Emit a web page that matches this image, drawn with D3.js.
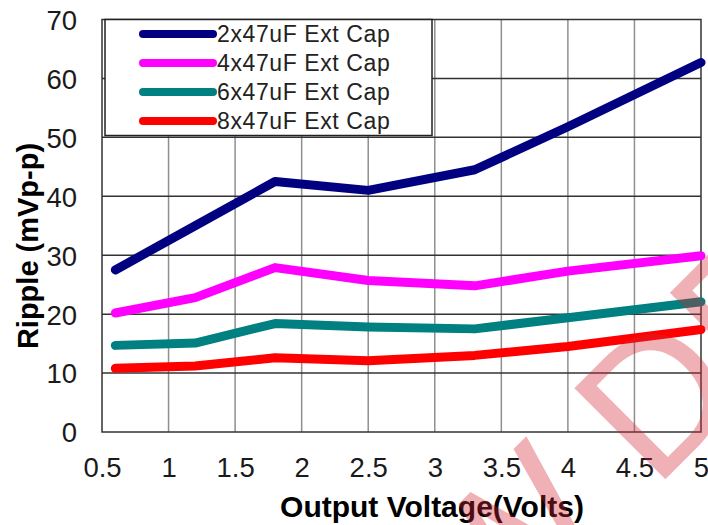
<!DOCTYPE html>
<html>
<head>
<meta charset="utf-8">
<script src="https://cdn.jsdelivr.net/npm/d3@7"></script>
<style>
  html, body { margin: 0; padding: 0; background: #fff; }
  svg { display: block; font-family: "Liberation Sans", Arial, sans-serif; }
</style>
</head>
<body>
<svg id="chart" width="708" height="525"></svg>
<script>
// Output voltage points (V)
const voltages = [0.6, 1.2, 1.8, 2.5, 3.3, 4.0, 5.0];

// Ripple (mVp-p) for each external capacitor bank
const ripple2x = [27.5, 35.0, 42.5, 41.0, 44.5, 51.8, 62.7];
const ripple4x = [20.2, 22.8, 27.9, 25.7, 24.8, 27.3, 29.9];
const ripple6x = [14.7, 15.1, 18.4, 17.8, 17.5, 19.4, 22.1];
const ripple8x = [10.8, 11.2, 12.6, 12.1, 13.0, 14.5, 17.4];

const seriesNames = ["2x47uF Ext Cap", "4x47uF Ext Cap", "6x47uF Ext Cap", "8x47uF Ext Cap"];
const seriesColors = ["#000080", "#ff00ff", "#008080", "#ff0000"];

const xTickValues = [0.5, 1, 1.5, 2, 2.5, 3, 3.5, 4, 4.5, 5];
const xTickLabels = ["0.5", "1", "1.5", "2", "2.5", "3", "3.5", "4", "4.5", "5"];
const yTickValues = [0, 10, 20, 30, 40, 50, 60, 70];

const watermarkText = "NOT RECOMMENDED FOR NEW DESIGNS";

const series = [ripple2x, ripple4x, ripple6x, ripple8x].map((vals, i) => ({
  name: seriesNames[i],
  color: seriesColors[i],
  points: vals.map((v, j) => ({ x: voltages[j], y: v }))
}));

const svg = d3.select("#chart");
const plot = { left: 102, right: 701, top: 19.5, bottom: 432 };

const x = d3.scaleLinear().domain([0.5, 5]).range([plot.left, plot.right]);
const y = d3.scaleLinear().domain([0, 70]).range([plot.bottom, plot.top]);

// Grid: light vertical lines, darker horizontal lines
svg.append("g").selectAll("line")
  .data(xTickValues.slice(1, -1))
  .join("line")
  .attr("x1", d => x(d)).attr("x2", d => x(d))
  .attr("y1", plot.top).attr("y2", plot.bottom)
  .attr("stroke", "#8f8f8f").attr("stroke-width", 1.5);

svg.append("g").selectAll("line")
  .data(yTickValues.slice(1, -1))
  .join("line")
  .attr("x1", plot.left).attr("x2", plot.right)
  .attr("y1", d => y(d)).attr("y2", d => y(d))
  .attr("stroke", "#333").attr("stroke-width", 1.5);

// Plot frame
svg.append("rect")
  .attr("x", plot.left).attr("y", plot.top)
  .attr("width", plot.right - plot.left).attr("height", plot.bottom - plot.top)
  .attr("fill", "none").attr("stroke", "#333").attr("stroke-width", 1.5);

// Axes (labels only)
const xAxis = d3.axisBottom(x).tickValues(xTickValues)
  .tickFormat((d, i) => xTickLabels[i]).tickSize(0).tickPadding(0);
const gx = svg.append("g").attr("transform", `translate(0,${plot.bottom})`).call(xAxis);
gx.select(".domain").remove();
gx.selectAll("text")
  .attr("y", 45).attr("dy", 0)
  .attr("font-size", 27.5).attr("fill", "#1a1a1a")
  .attr("font-family", "'Liberation Sans', Arial, sans-serif");

const yAxis = d3.axisLeft(y).tickValues(yTickValues).tickSize(0).tickPadding(0);
const gy = svg.append("g").attr("transform", `translate(${plot.left},0)`).call(yAxis);
gy.select(".domain").remove();
gy.selectAll("text")
  .attr("x", -25).attr("dy", "0.36em")
  .attr("font-size", 27.5).attr("fill", "#1a1a1a")
  .attr("font-family", "'Liberation Sans', Arial, sans-serif");

// Axis titles
svg.append("text")
  .attr("x", 432).attr("y", 517)
  .attr("text-anchor", "middle")
  .attr("font-size", 30).attr("font-weight", "bold").attr("fill", "#000")
  .text("Output Voltage(Volts)");

svg.append("text")
  .attr("transform", "translate(38,246) rotate(-90)")
  .attr("text-anchor", "middle")
  .attr("font-size", 29).attr("font-weight", "bold").attr("fill", "#000")
  .text("Ripple (mVp-p)");

// Series lines
const line = d3.line().x(d => x(d.x)).y(d => y(d.y));
svg.append("g").selectAll("path")
  .data(series)
  .join("path")
  .attr("d", d => line(d.points))
  .attr("fill", "none")
  .attr("stroke", d => d.color)
  .attr("stroke-width", 9)
  .attr("stroke-linecap", "round")
  .attr("stroke-linejoin", "round");

// Legend
const legend = svg.append("g");
legend.append("rect")
  .attr("x", 105).attr("y", plot.top)
  .attr("width", 327).attr("height", 116)
  .attr("fill", "#fff").attr("stroke", "#222").attr("stroke-width", 1.5);

const rows = legend.selectAll("g.row")
  .data(series)
  .join("g")
  .attr("class", "row")
  .attr("transform", (d, i) => `translate(0,${34 + i * 29})`);
rows.append("line")
  .attr("x1", 143).attr("x2", 213)
  .attr("stroke", d => d.color).attr("stroke-width", 8)
  .attr("stroke-linecap", "round");
rows.append("text")
  .attr("x", 217).attr("dy", "0.36em")
  .attr("font-size", 23).attr("fill", "#222")
  .attr("letter-spacing", 0.6)
  .text(d => d.name);

// Diagonal watermark across the page, on top with transparency
const wm = svg.append("g").attr("transform", "translate(654.5,489.9) rotate(-45)");
const wmText = wm.append("text")
  .attr("x", 0).attr("y", 0)
  .attr("font-size", 187)
  .attr("fill", "rgb(210,40,50)").attr("fill-opacity", 0.36)
  .text(watermarkText);
const idx = watermarkText.indexOf("DESIGNS");
const offset = wmText.node().getSubStringLength(0, idx);
wmText.attr("x", -offset);
</script>
</body>
</html>
